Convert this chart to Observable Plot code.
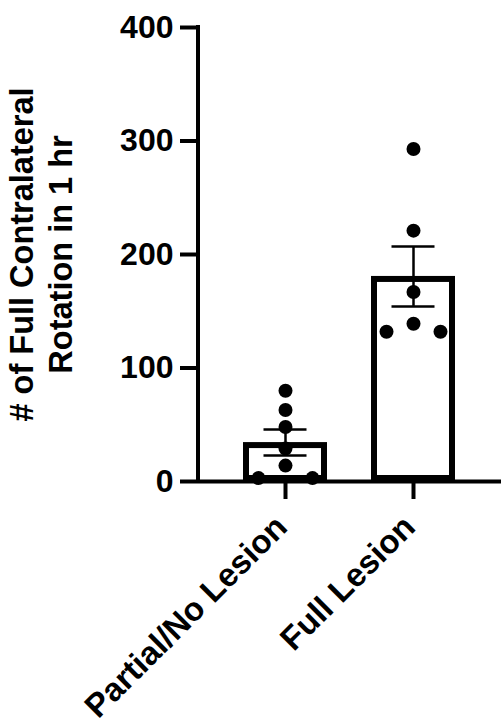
<!DOCTYPE html>
<html>
<head>
<meta charset="utf-8">
<script src="https://cdn.jsdelivr.net/npm/d3@7"></script>
<script src="https://cdn.jsdelivr.net/npm/@observablehq/plot@0.6"></script>
<style>
  html, body { margin: 0; padding: 0; background: #fff; }
  svg { display: block; }
</style>
</head>
<body>
<div id="chart"></div>
<script>
const categories = ["Partial/No Lesion", "Full Lesion"];
const partialValues = [80, 63, 48, 29, 14, 3, 3];
const fullValues = [293, 221, 167, 139, 132, 132];
const yTicks = [0, 100, 200, 300, 400];
const yTitle = "# of Full Contralateral\nRotation in 1 hr";

const groups = [
  {group: categories[0], values: partialValues},
  {group: categories[1], values: fullValues}
];

// summary stats (mean ± SEM)
const summary = groups.map(g => {
  const m = d3.mean(g.values);
  const sem = d3.deviation(g.values) / Math.sqrt(g.values.length);
  return {group: g.group, mean: m, lo: m - sem, hi: m + sem};
});

// points; duplicated values are spread to either side
const points = [];
for (const g of groups) {
  const seen = new Map();
  const counts = d3.rollup(g.values, v => v.length, d => d);
  for (const v of g.values) {
    let side = 0;
    if (counts.get(v) > 1) {
      const k = seen.get(v) || 0;
      side = k % 2 === 0 ? -1 : 1;
      seen.set(v, k + 1);
    }
    points.push({group: g.group, value: v, side});
  }
}

const font = "'Liberation Sans', Arial, Helvetica, sans-serif";
const spread = 27;

const chart = Plot.plot({
  width: 501,
  height: 728,
  marginLeft: 198,
  marginRight: 0,
  marginTop: 27,
  marginBottom: 247,
  style: {fontFamily: font, background: "#fff", color: "#000"},
  x: {domain: categories, padding: 0.341, paddingOuter: 0.354, label: null},
  y: {domain: [0, 400], ticks: yTicks, label: null},
  marks: [
    Plot.barY(summary, {x: "group", y: "mean", fill: "#fff", stroke: "#000", strokeWidth: 6, inset: 3}),
    Plot.ruleY([0], {stroke: "#000", strokeWidth: 4}),
    Plot.ruleX(summary, {x: "group", y1: "lo", y2: "hi", stroke: "#000", strokeWidth: 2.5}),
    Plot.tickY(summary, {x: "group", y: "lo", stroke: "#000", strokeWidth: 2.5, inset: 20.5}),
    Plot.tickY(summary, {x: "group", y: "hi", stroke: "#000", strokeWidth: 2.5, inset: 20.5}),
    Plot.dot(points.filter(d => d.side === 0), {x: "group", y: "value", r: 7, fill: "#000", stroke: "none"}),
    Plot.dot(points.filter(d => d.side === -1), {x: "group", y: "value", r: 7, fill: "#000", stroke: "none", dx: -spread}),
    Plot.dot(points.filter(d => d.side === 1), {x: "group", y: "value", r: 7, fill: "#000", stroke: "none", dx: spread}),
    Plot.axisY({ticks: yTicks, tickSize: 18, tickPadding: 7, fontSize: 32, fontWeight: "bold", strokeWidth: 4, label: null}),
    Plot.axisX({tickSize: 18, tickFormat: () => "", strokeWidth: 4, label: null}),
    Plot.text(categories, {x: d => d, frameAnchor: "bottom", dx: -4, dy: 40, rotate: -45, textAnchor: "end", lineAnchor: "middle", fontSize: 33, fontWeight: "bold", fill: "#000"}),
    Plot.text([yTitle], {frameAnchor: "left", dx: -158, rotate: -90, fontSize: 32.5, fontWeight: "bold", lineHeight: 1.2, lineAnchor: "middle", textAnchor: "middle", fill: "#000"})
  ]
});

// y-axis line along the frame's left edge, from the y scale
const ys = chart.scale("y");
d3.select(chart).append("line")
  .attr("x1", 198).attr("x2", 198)
  .attr("y1", ys.apply(400) - 2).attr("y2", ys.apply(0) + 2)
  .attr("stroke", "#000").attr("stroke-width", 4);

document.getElementById("chart").appendChild(chart);
</script>
</body>
</html>
